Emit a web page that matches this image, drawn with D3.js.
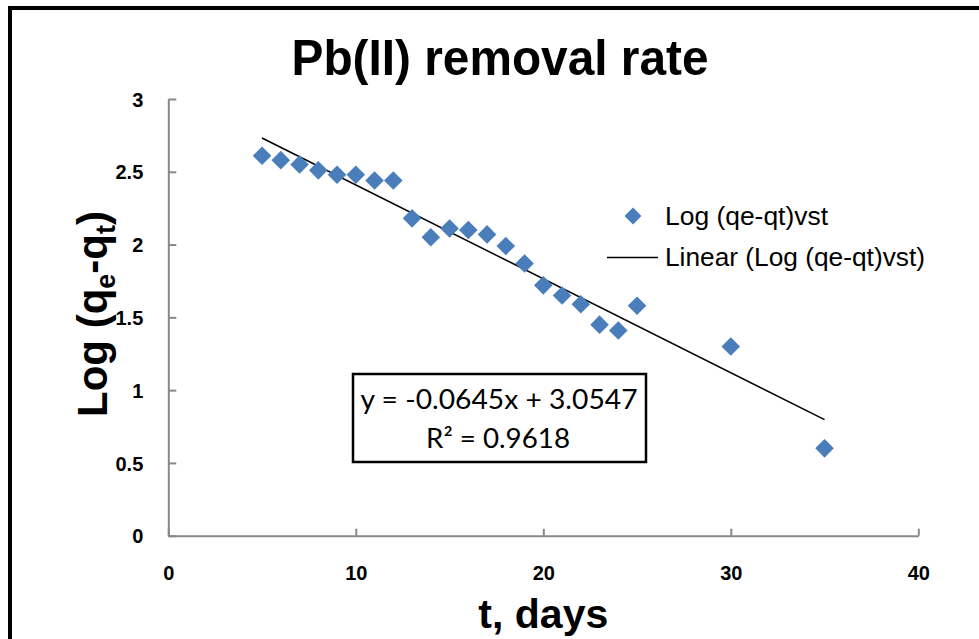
<!DOCTYPE html>
<html>
<head>
<meta charset="utf-8">
<script src="https://cdn.jsdelivr.net/npm/d3@7"></script>
<style>
  html, body { margin: 0; padding: 0; background: #fff; }
  svg { display: block; }
</style>
</head>
<body>
<svg id="chart" width="979" height="639"></svg>
<script>
// Pseudo-first-order kinetics of Pb(II) removal
const days = [5, 6, 7, 8, 9, 10, 11, 12, 13, 14, 15, 16, 17, 18, 19, 20, 21, 22, 23, 24, 25, 30, 35];
const logQeQt = [2.61, 2.58, 2.55, 2.51, 2.48, 2.48, 2.44, 2.44, 2.18, 2.05, 2.11, 2.10, 2.07, 1.99, 1.87, 1.72, 1.65, 1.59, 1.45, 1.41, 1.58, 1.30, 0.60];

// Linear trend line fitted to the series
const fitSlope = -0.0645;
const fitIntercept = 3.0547;
const fitR2 = 0.9618;
const fitRange = [5, 35];

const xTicks = [0, 10, 20, 30, 40];
const yTicks = [0, 0.5, 1, 1.5, 2, 2.5, 3];

const titleText = "Pb(II) removal rate";
const xTitle = "t, days";
const seriesName = "Log (qe-qt)vst";
const trendName = "Linear (Log (qe-qt)vst)";

const svg = d3.select("#chart");
const markerColor = "#4a7ebb";
const axisColor = "#888888";

const x = d3.scaleLinear().domain([0, 40]).range([168.3, 918.3]);
const y = d3.scaleLinear().domain([0, 3]).range([535.7, 99]);

// Outer chart frame (only the left and top edges are inside the view)
svg.append("rect")
  .attr("x", 10).attr("y", 8)
  .attr("width", 1200).attr("height", 900)
  .attr("fill", "none").attr("stroke", "#000").attr("stroke-width", 4);

// Title
svg.append("text")
  .attr("x", 500).attr("y", 75)
  .attr("text-anchor", "middle")
  .attr("font-family", "'Liberation Sans', Arial, sans-serif")
  .attr("font-weight", "bold")
  .attr("font-size", 50)
  .attr("textLength", 417).attr("lengthAdjust", "spacingAndGlyphs")
  .text(titleText);

// Axes
const yAxis = d3.axisLeft(y).tickValues(yTicks).tickSize(-8).tickSizeOuter(0).tickPadding(25)
  .tickFormat(d3.format("~g"));
const xAxis = d3.axisBottom(x).tickValues(xTicks).tickSize(-7).tickSizeOuter(0).tickPadding(30)
  .tickFormat(d3.format("~g"));

const gy = svg.append("g").attr("transform", `translate(${x(0)},0)`).call(yAxis);
const gx = svg.append("g").attr("transform", `translate(0,${y(0)})`).call(xAxis);

[gx, gy].forEach(g => {
  g.attr("font-family", "'Liberation Sans', Arial, sans-serif").attr("font-size", 20);
  g.select(".domain").attr("stroke", axisColor).attr("stroke-width", 2);
  g.selectAll(".tick line").attr("stroke", axisColor).attr("stroke-width", 2);
  g.selectAll(".tick text")
    .attr("fill", "#000")
    .attr("font-weight", "bold");
});
gy.selectAll(".tick text").attr("dy", "0.36em");
gx.selectAll(".tick text").attr("dy", "0");
gx.selectAll(".tick text").attr("y", 580 - y(0));

// Axis titles
svg.append("text")
  .attr("x", x(20)).attr("y", 628)
  .attr("text-anchor", "middle")
  .attr("font-family", "'Liberation Sans', Arial, sans-serif")
  .attr("font-weight", "bold")
  .attr("font-size", 41)
  .text(xTitle);

const yt = svg.append("text")
  .attr("transform", "translate(107,314) rotate(-90)")
  .attr("text-anchor", "middle")
  .attr("font-family", "'Liberation Sans', Arial, sans-serif")
  .attr("font-weight", "bold")
  .attr("font-size", 42);
yt.append("tspan").text("Log (q");
yt.append("tspan").attr("font-size", 27).attr("dy", 8).text("e");
yt.append("tspan").attr("dy", -8).text("-q");
yt.append("tspan").attr("font-size", 27).attr("dy", 8).text("t");
yt.append("tspan").attr("dy", -8).text(")");

// Trend line
const trend = fitRange.map(t => [t, fitSlope * t + fitIntercept]);
svg.append("path")
  .datum(trend)
  .attr("d", d3.line().x(d => x(d[0])).y(d => y(d[1])))
  .attr("stroke", "#000").attr("stroke-width", 1.5).attr("fill", "none");

// Diamond markers
const diamond = r => `M0,${-r}L${r},0L0,${r}L${-r},0Z`;
svg.append("g").selectAll("path")
  .data(days.map((t, i) => ({ t, v: logQeQt[i] })))
  .join("path")
  .attr("transform", d => `translate(${x(d.t)},${y(d.v)})`)
  .attr("d", diamond(9.3))
  .attr("fill", markerColor);

// Legend
const legend = svg.append("g")
  .attr("font-family", "'Liberation Sans', Arial, sans-serif")
  .attr("font-size", 26);
legend.append("path")
  .attr("transform", "translate(633,216)")
  .attr("d", diamond(8.5))
  .attr("fill", markerColor);
legend.append("text").attr("x", 665).attr("y", 225)
  .attr("textLength", 163).attr("lengthAdjust", "spacingAndGlyphs").text(seriesName);
legend.append("line")
  .attr("x1", 607).attr("x2", 658).attr("y1", 257.5).attr("y2", 257.5)
  .attr("stroke", "#000").attr("stroke-width", 1.5);
legend.append("text").attr("x", 665).attr("y", 266)
  .attr("textLength", 260).attr("lengthAdjust", "spacingAndGlyphs").text(trendName);

// Equation box
svg.append("rect")
  .attr("x", 353).attr("y", 374).attr("width", 293).attr("height", 88)
  .attr("fill", "#fff").attr("stroke", "#000").attr("stroke-width", 2.5);
const eq = svg.append("g")
  .attr("font-family", "Lato, 'Open Sans', sans-serif")
  .attr("font-size", 26)
  .attr("text-anchor", "middle");
const fmt = v => (v < 0 ? "-" : "") + Math.abs(v).toFixed(4);
eq.append("text").attr("x", 499).attr("y", 409)
  .attr("textLength", 277).attr("lengthAdjust", "spacingAndGlyphs")
  .text(`y = ${fmt(fitSlope)}x + ${fmt(fitIntercept)}`);
eq.append("text").attr("x", 498).attr("y", 448)
  .attr("textLength", 144).attr("lengthAdjust", "spacingAndGlyphs")
  .text(`R² = ${fmt(fitR2)}`);
</script>
</body>
</html>
